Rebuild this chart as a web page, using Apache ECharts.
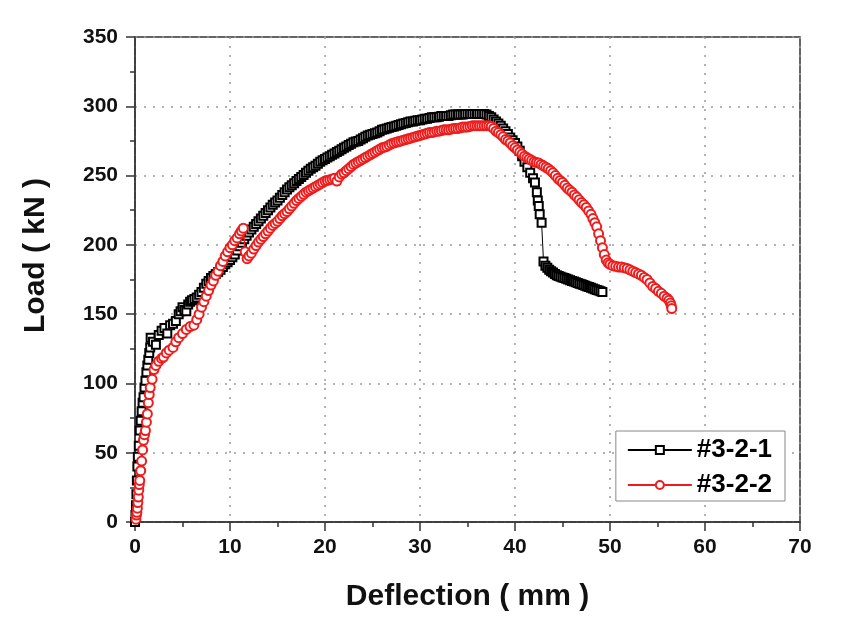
<!DOCTYPE html>
<html>
<head>
<meta charset="utf-8">
<script src="https://cdn.jsdelivr.net/npm/echarts@6/dist/echarts.min.js"></script>
<style>html,body{margin:0;padding:0;background:#fff}#c{width:849px;height:637px}</style>
</head>
<body>
<div id="c"></div>
<script>
var seriesNames = ['#3-2-1', '#3-2-2'];
var xTicks = [0, 10, 20, 30, 40, 50, 60, 70];
var yTicks = [0, 50, 100, 150, 200, 250, 300, 350];

var s1x = [0,0.05,0.1,0.15,0.2,0.25,0.3,0.4,0.5,0.6,0.7,0.8,0.9,1.0,1.1,1.2,1.3,1.4,1.5,1.6,1.65,1.9,2.2,2.5,2.8,3.1,3.4,3.7,4.0,4.3,4.6,4.8,5.0,5.2,5.4,5.6,5.8,6.0,6.25,6.5,6.75,
  7.0,7.25,7.5,7.75,8.0,8.25,8.5,8.75,9.0,9.25,9.5,9.75,10.0,10.25,10.5,10.75,11.0,11.25,11.5,11.75,12.0,12.25,12.5,12.75,13.0,13.25,13.5,13.75,14.0,14.25,14.5,14.75,15.0,15.25,15.5,15.75,16.0,16.25,16.5,16.75,17.0,17.25,17.5,17.75,18.0,18.25,18.5,18.75,19.0,19.25,19.5,19.75,20.0,20.25,20.5,20.75,21.0,21.25,21.5,21.75,22.0,22.25,22.5,22.75,23.0,23.25,23.5,23.75,24.0,24.25,24.5,24.75,25.0,25.25,25.5,25.75,26.0,26.25,26.5,26.75,27.0,27.25,27.5,27.75,28.0,28.25,28.5,28.75,29.0,29.25,29.5,29.75,30.0,30.25,30.5,30.75,31.0,31.25,31.5,31.75,32.0,32.25,32.5,32.75,33.0,33.25,33.5,33.75,34.0,34.25,34.5,34.75,35.0,35.25,35.5,35.75,36.0,36.25,36.5,36.75,37.0,
  37.25,37.5,37.75,38.0,38.25,38.5,38.75,39.0,39.25,39.5,39.75,40.0,40.25,40.5,40.75,41.0,41.3,41.6,41.9,42.1,42.3,42.4,42.5,42.6,42.8,
  43.0,43.2,43.4,43.6,43.8,44.0,44.2,44.4,44.6,44.8,45.0,45.2,45.4,45.6,45.8,46.0,46.2,46.4,46.6,46.8,47.0,47.2,47.4,47.6,47.8,48.0,48.2,48.4,48.6,48.8,49.0,49.2];
var s1y = [0,5,12,20,30,40,47,55,66,73,80,86,90,97,102,108,113,117,122,126,133,130,128,135,138,140,136,142,143,145,150,152,155,153,152,157,159,160,161,162,164,
  166,169,172,174,176,177.5,179,180.5,182,184,186,187.5,189,191,193,196,199,201.5,204,206.5,209,211,213,215,217,219,221,223,225,227,229,230.5,232,234,236,238,240,241.5,243,244.5,246,247.5,249,250.5,252,253.5,255,256,257,258.5,260,261,262,263,264,265,266,267,268,269,270,271,272,273,274,274.5,275,276,277,278,279,279.5,280,280.5,281,282,283,283.5,284,284.5,285,285.5,286,286.5,287,287.5,288,288.5,289,289,289.5,290,290,290.5,291,291,291.5,292,292,292,292.5,293,293,293,293,293.5,294,294,294,294,294,294.5,294.5,294.5,294.5,294.5,294.5,294.5,294.5,294.5,294,
  293,292,290.5,289,287.5,286,284,282,280,277.5,275.5,273.5,271,268,264,260,256,252,248,245,238,232,228,222,216,
  188,185,183.5,182,181,180,179,178,177.5,177,176.5,176,175.5,175,174.5,174,173.5,173,172.5,172,171.5,171,170.5,170,169.5,169,168.5,168,167.5,167,166.5,166];

var s2x = [0.1,0.15,0.2,0.25,0.3,0.35,0.4,0.45,0.5,0.6,0.7,0.8,0.9,1.0,1.1,1.2,1.3,1.4,1.5,1.6,1.8,2.0,2.2,2.5,2.8,3.0,3.3,3.6,4.0,4.3,4.6,5.0,5.4,5.8,6.2,
  6.5,6.75,7.0,7.25,7.5,7.75,8.0,8.25,8.5,8.75,9.0,9.25,9.5,9.75,10.0,10.25,10.5,10.75,11.0,11.2,11.4,11.6,11.8,
  12.0,12.25,12.5,12.75,13.0,13.25,13.5,13.75,14.0,14.25,14.5,14.75,15.0,15.25,15.5,15.75,16.0,16.25,16.5,16.75,17.0,17.25,17.5,17.75,18.0,18.25,18.5,18.75,19.0,19.25,19.5,19.75,20.0,20.25,20.5,20.75,21.0,21.25,21.5,21.75,22.0,22.25,22.5,22.75,23.0,23.25,23.5,23.75,24.0,24.25,24.5,24.75,25.0,25.25,25.5,25.75,26.0,26.25,26.5,26.75,27.0,27.25,27.5,27.75,28.0,28.25,28.5,28.75,29.0,29.25,29.5,29.75,30.0,30.25,30.5,30.75,31.0,31.25,31.5,31.75,32.0,32.25,32.5,32.75,33.0,33.25,33.5,33.75,34.0,34.25,34.5,34.75,35.0,35.25,35.5,35.75,36.0,36.25,36.5,36.75,37.0,37.25,37.5,
  37.75,38.0,38.25,38.5,38.75,39.0,39.25,39.5,39.75,40.0,40.25,40.5,40.75,41.0,41.25,41.5,41.75,42.0,42.25,42.5,42.75,43.0,43.25,43.5,43.75,44.0,44.25,44.5,44.75,45.0,45.25,45.5,45.75,46.0,46.25,46.5,46.75,47.0,47.25,47.5,47.75,48.0,48.2,48.4,48.6,48.8,49.0,49.2,49.4,49.6,49.8,
  50.0,50.3,50.6,50.9,51.2,51.5,51.8,52.1,52.4,52.7,53.0,53.3,53.6,53.9,54.2,54.5,54.8,55.1,55.4,55.7,56.0,56.2,56.35,56.45,56.5];
var s2y = [2,5,7,10,14,18,23,27,30,37,44,52,59,63,66,72,78,86,92,97,103,110,113,116,118,119,122,124,126,130,133,136,139,141,142,
  146,150,155,159,163,167,171,174,178,181,185,188,192,195,198,200,203,205,208,210,212,195,190,
  192,194,197,199.5,202,204,206,208,210,212,214,215.5,217,219,221,222.5,224,226,228,230,232,233.5,235,236.5,238,239,240,241,242,243,244,245,246,246.5,247,247.5,248,246,249,251,252,253.5,255,256.5,258,259,260,261,262,263,264,265,266,267,268,269,270,270.5,271,272,273,273.5,274,274.5,275,275.5,276,276.5,277,277.5,278,278.5,279,279.5,280,280.5,281,281,281.5,282,282,282.5,283,283,283,283.5,284,284,284,284.5,285,285,285,285.5,286,286,286,286,286,286,286,286,285.5,
  284,282,281,279.5,278,276,275,273.5,271.5,270,268.5,267,265.5,264,263,262,261,260,259.5,259,258,257,256,255,253.5,252,250,248,246.5,245,243,241,239.5,238,236,234.5,232.5,230.5,229,227,224.5,222,219,216,213,208,203,198,193,189,187,
  186,185,184.5,184,184,183.5,183,182,181,180,179,178,176.5,175,172.5,170,168.5,166.5,165,163,161.5,160,158,156,154];

function pairs(xs, ys) { return xs.map(function (x, i) { return [x, ys[i]]; }); }

var font = '"Liberation Sans", Arial, sans-serif';
var chart = echarts.init(document.getElementById('c'), null, { renderer: 'canvas' });
chart.setOption({
  animation: false,
  backgroundColor: '#fff',
  grid: { left: 135, right: 49, top: 37, bottom: 115, show: true, borderColor: '#333', borderWidth: 1.5, containLabel: false },
  legend: {
    orient: 'vertical', right: 64, top: 431,
    backgroundColor: '#fff', borderColor: '#888', borderWidth: 1,
    padding: [6, 13, 3, 11], itemGap: 9, itemWidth: 64, itemHeight: 10,
    textStyle: { fontFamily: font, fontWeight: 'bold', fontSize: 26, color: '#000' },
    data: seriesNames
  },
  xAxis: {
    type: 'value', min: 0, max: 70, interval: 10,
    name: 'Deflection ( mm )', nameLocation: 'middle', nameGap: 60,
    nameTextStyle: { fontFamily: font, fontWeight: 'bold', fontSize: 30, color: '#111' },
    axisLine: { lineStyle: { color: '#333', width: 1.5 } },
    axisTick: { show: true, length: 9, lineStyle: { color: '#333', width: 1.5 } },
    minorTick: { show: true, splitNumber: 2, length: 5, lineStyle: { color: '#333', width: 1.5 } },
    axisLabel: { fontFamily: font, fontWeight: 'bold', fontSize: 21, color: '#111', margin: 15,
      formatter: function (v) { return xTicks.indexOf(v) >= 0 ? String(v) : ''; } },
    splitLine: { show: true, lineStyle: { color: '#999', type: [2, 7], width: 1.5 } }
  },
  yAxis: {
    type: 'value', min: 0, max: 350, interval: 50,
    name: 'Load ( kN )', nameLocation: 'middle', nameGap: 84, nameRotate: 90,
    nameTextStyle: { fontFamily: font, fontWeight: 'bold', fontSize: 30, color: '#111', padding: [0, 0, 0, 48] },
    axisLine: { lineStyle: { color: '#333', width: 1.5 } },
    axisTick: { show: true, length: 9, lineStyle: { color: '#333', width: 1.5 } },
    minorTick: { show: true, splitNumber: 2, length: 5, lineStyle: { color: '#333', width: 1.5 } },
    axisLabel: { fontFamily: font, fontWeight: 'bold', fontSize: 21, color: '#111', margin: 17,
      formatter: function (v) { return yTicks.indexOf(v) >= 0 ? String(v) : ''; } },
    splitLine: { show: true, lineStyle: { color: '#999', type: [2, 7], width: 1.5 } }
  },
  series: [
    {
      name: seriesNames[0], type: 'line', data: pairs(s1x, s1y),
      symbol: 'emptyRect', symbolSize: 8,
      lineStyle: { color: '#000', width: 1 },
      itemStyle: { color: '#000', borderColor: '#000', borderWidth: 1.2 },
      z: 3
    },
    {
      name: seriesNames[1], type: 'line', data: pairs(s2x, s2y),
      symbol: 'emptyCircle', symbolSize: 9,
      lineStyle: { color: '#ee1c1c', width: 1.5 },
      itemStyle: { color: '#ee1c1c', borderColor: '#ee1c1c', borderWidth: 1.5 },
      z: 4
    }
  ]
});
</script>
</body>
</html>
